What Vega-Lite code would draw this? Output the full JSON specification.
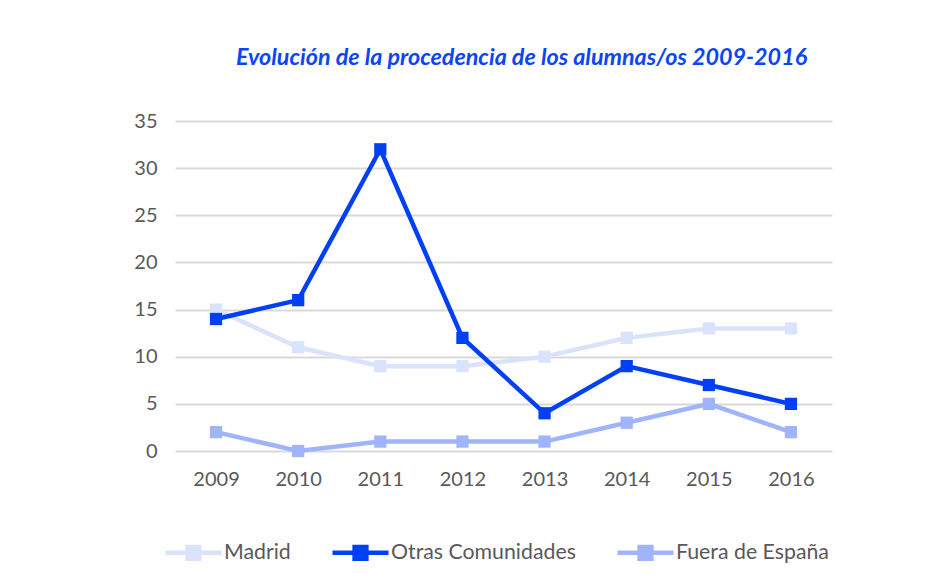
{
  "$schema": "https://vega.github.io/schema/vega-lite/v6.json",
  "width": 657,
  "height": 330,
  "autosize": {"type": "none"},
  "padding": {"left": 175, "top": 121, "right": 117, "bottom": 127},
  "background": "white",
  "title": {
    "text": "Evolución de la procedencia de los alumnas/os 2009-2016",
    "font": "Lato",
    "fontSize": 23.3,
    "fontWeight": "bold",
    "fontStyle": "italic",
    "color": "#0a46f5",
    "anchor": "middle",
    "dx": 18,
    "offset": 41
  },
  "data": {
    "values": [
      {"year": "2009", "serie": "Madrid", "value": 15},
      {"year": "2010", "serie": "Madrid", "value": 11},
      {"year": "2011", "serie": "Madrid", "value": 9},
      {"year": "2012", "serie": "Madrid", "value": 9},
      {"year": "2013", "serie": "Madrid", "value": 10},
      {"year": "2014", "serie": "Madrid", "value": 12},
      {"year": "2015", "serie": "Madrid", "value": 13},
      {"year": "2016", "serie": "Madrid", "value": 13},
      {"year": "2009", "serie": "Otras Comunidades", "value": 14},
      {"year": "2010", "serie": "Otras Comunidades", "value": 16},
      {"year": "2011", "serie": "Otras Comunidades", "value": 32},
      {"year": "2012", "serie": "Otras Comunidades", "value": 12},
      {"year": "2013", "serie": "Otras Comunidades", "value": 4},
      {"year": "2014", "serie": "Otras Comunidades", "value": 9},
      {"year": "2015", "serie": "Otras Comunidades", "value": 7},
      {"year": "2016", "serie": "Otras Comunidades", "value": 5},
      {"year": "2009", "serie": "Fuera de España", "value": 2},
      {"year": "2010", "serie": "Fuera de España", "value": 0},
      {"year": "2011", "serie": "Fuera de España", "value": 1},
      {"year": "2012", "serie": "Fuera de España", "value": 1},
      {"year": "2013", "serie": "Fuera de España", "value": 1},
      {"year": "2014", "serie": "Fuera de España", "value": 3},
      {"year": "2015", "serie": "Fuera de España", "value": 5},
      {"year": "2016", "serie": "Fuera de España", "value": 2}
    ]
  },
  "mark": {
    "type": "line",
    "strokeWidth": 4.5,
    "point": {"shape": "square", "filled": true, "size": 150, "opacity": 1}
  },
  "encoding": {
    "x": {
      "field": "year",
      "type": "ordinal",
      "scale": {"type": "point", "padding": 0.5},
      "axis": {
        "title": null,
        "labelAngle": 0,
        "domain": false,
        "ticks": false,
        "grid": false,
        "labelPadding": 18,
        "labelFont": "Lato",
        "labelFontSize": 20,
        "labelColor": "#595959"
      }
    },
    "y": {
      "field": "value",
      "type": "quantitative",
      "scale": {"domain": [0, 35], "nice": false},
      "axis": {
        "title": null,
        "values": [0, 5, 10, 15, 20, 25, 30, 35],
        "domain": false,
        "ticks": false,
        "gridColor": "#d9d9d9",
        "gridWidth": 1.8,
        "labelPadding": 18,
        "labelFont": "Lato",
        "labelFontSize": 20,
        "labelColor": "#595959"
      }
    },
    "color": {
      "field": "serie",
      "type": "nominal",
      "sort": ["Madrid", "Otras Comunidades", "Fuera de España"],
      "scale": {
        "domain": ["Madrid", "Otras Comunidades", "Fuera de España"],
        "range": ["#dae3fc", "#0040f5", "#a0b4fb"]
      },
      "legend": {
        "title": null,
        "orient": "none",
        "direction": "horizontal",
        "legendX": -12,
        "legendY": 401,
        "symbolType": "M-1,0L1,0M-0.21,-0.21L0.21,-0.21L0.21,0.21L-0.21,0.21Z",
        "symbolSize": 3136,
        "symbolStrokeWidth": 4.5,
        "labelOffset": 0,
        "labelLimit": 400,
        "columnPadding": 32,
        "labelFont": "Lato",
        "labelFontSize": 21.3,
        "labelColor": "#595959",
        "encode": {
          "symbols": {
            "update": {
              "fill": {"scale": "color", "field": "value"},
              "stroke": {"scale": "color", "field": "value"},
              "opacity": {"value": 1}
            }
          }
        }
      }
    },
    "order": {"field": "year"}
  },
  "config": {"view": {"stroke": null}}
}
